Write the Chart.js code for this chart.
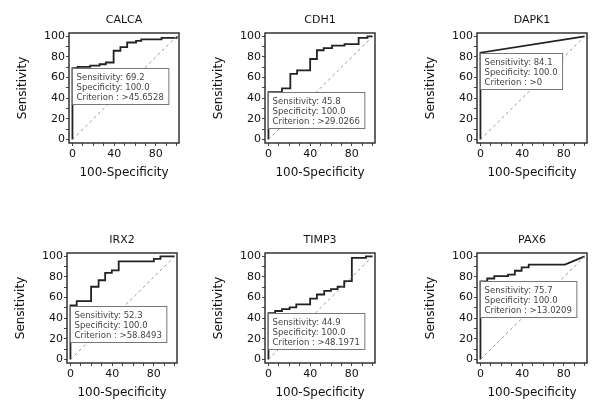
<!DOCTYPE html>
<html lang="en">
<head>
<meta charset="UTF-8">
<title>ROC curves</title>
<script src="https://cdn.jsdelivr.net/npm/chart.js"></script>
<style>
  body { margin: 0; background: #fff; }
  #wrap { position: relative; width: 600px; height: 415px; }
  canvas { position: absolute; }
</style>
</head>
<body>
<div id="wrap"></div>
<script>
const markers = ['CALCA', 'CDH1', 'DAPK1', 'IRX2', 'TIMP3', 'PAX6'];
const sensitivity = ['69.2', '45.8', '84.1', '52.3', '44.9', '75.7'];
const specificity = ['100.0', '100.0', '100.0', '100.0', '100.0', '100.0'];
const criterion = ['>45.6528', '>29.0266', '>0', '>58.8493', '>48.1971', '>13.0209'];

// ROC curve corners: x = 100-specificity, y = sensitivity
const calcaX = [0, 0, 5, 5, 17, 17, 26, 26, 32, 32, 39.5, 39.5, 46, 46, 52.5, 52.5, 61, 61, 66, 66, 85.5, 85.5, 100, 100];
const calcaY = [0, 69.2, 69.2, 70.4, 70.4, 71.6, 71.6, 72.9, 72.9, 74.6, 74.6, 86, 86, 89.5, 89.5, 94, 94, 95.5, 95.5, 97.1, 97.1, 98.5, 98.5, 100];
const cdh1X = [0, 0, 13, 13, 21, 21, 27.5, 27.5, 40, 40, 46.5, 46.5, 53, 53, 61, 61, 73, 73, 86.5, 86.5, 95, 95, 100];
const cdh1Y = [0, 45.8, 45.8, 49.6, 49.6, 63.5, 63.5, 67, 67, 78, 78, 86.5, 86.5, 88.5, 88.5, 91, 91, 92.5, 92.5, 98.5, 98.5, 100, 100];
const dapk1X = [0, 0, 100];
const dapk1Y = [0, 84.1, 100];
const irx2X = [0, 0, 6, 6, 19.8, 19.8, 27, 27, 33.3, 33.3, 39.7, 39.7, 46.3, 46.3, 80, 80, 86.3, 86.3, 100];
const irx2Y = [0, 52.3, 52.3, 56.5, 56.5, 70.5, 70.5, 76.8, 76.8, 84, 84, 86.3, 86.3, 95, 95, 97.5, 97.5, 100, 100];
const timp3X = [0, 0, 6.4, 6.4, 13, 13, 20.3, 20.3, 26.7, 26.7, 40, 40, 46.5, 46.5, 53.5, 53.5, 60, 60, 66.3, 66.3, 72.7, 72.7, 80, 80, 93.5, 93.5, 100];
const timp3Y = [0, 44.9, 44.9, 47, 47, 48.8, 48.8, 50.6, 50.6, 53.5, 53.5, 59, 59, 63, 63, 66.5, 66.5, 68.2, 68.2, 70.5, 70.5, 76, 76, 98.5, 98.5, 100, 100];
const pax6X = [0, 0, 6.5, 6.5, 13.3, 13.3, 26.5, 26.5, 33, 33, 39.5, 39.5, 46.3, 46.3, 81, 100];
const pax6Y = [0, 75.7, 75.7, 78.5, 78.5, 80.7, 80.7, 82.2, 82.2, 86, 86, 89.3, 89.3, 92, 92, 100];

const diagX = [0, 100];
const diagY = [0, 100];
const xLabels = [0, 40, 80];
const yLabels = [0, 20, 40, 60, 80, 100];

const curvesX = [calcaX, cdh1X, dapk1X, irx2X, timp3X, pax6X];
const curvesY = [calcaY, cdh1Y, dapk1Y, irx2Y, timp3Y, pax6Y];

// layout of the six panels
const canvasLeft = [0, 200, 400, 0, 200, 400];
const canvasTop = [0, 0, 0, 220, 220, 220];
const plotLeft = [69, 65, 77, 67, 65, 77];
const plotSize = 110;
const font = 'DejaVu Sans';

const rocBox = {
    id: 'rocBox',
    beforeDatasetsDraw(chart) {
        const {ctx, chartArea: a} = chart;
        ctx.save();
        ctx.strokeStyle = '#333';
        ctx.lineWidth = 1.5;
        ctx.strokeRect(a.left, a.top, a.right - a.left, a.bottom - a.top);
        ctx.restore();
    },
    afterDatasetsDraw(chart, args, opts) {
        const {ctx, scales: {x, y}} = chart;
        ctx.save();
        ctx.font = '8.5px "' + font + '"';
        const w = Math.max(...opts.lines.map(t => ctx.measureText(t).width)) + 9;
        const bx = Math.round(x.getPixelForValue(0)) + 0.5;
        const by = Math.round(y.getPixelForValue(opts.sens)) + 0.5;
        ctx.fillStyle = '#fff';
        ctx.fillRect(bx, by, w, 36);
        ctx.strokeStyle = '#777';
        ctx.lineWidth = 1;
        ctx.strokeRect(bx, by, w, 36);
        ctx.fillStyle = '#444';
        ctx.textBaseline = 'middle';
        opts.lines.forEach((t, i) => ctx.fillText(t, bx + 4, by + 9 + i * 10.2));
        ctx.restore();
    }
};

const wrap = document.getElementById('wrap');
markers.forEach((name, i) => {
    const cv = document.createElement('canvas');
    cv.width = 200;
    cv.height = 190;
    cv.style.left = canvasLeft[i] + 'px';
    cv.style.top = canvasTop[i] + 'px';
    wrap.appendChild(cv);

    const L = plotLeft[i];
    new Chart(cv.getContext('2d'), {
        type: 'scatter',
        data: {
            datasets: [{
                data: diagX.map((v, k) => ({x: v, y: diagY[k]})),
                showLine: true,
                borderColor: '#999',
                borderWidth: 1,
                borderDash: [3, 3],
                pointRadius: 0
            }, {
                data: curvesX[i].map((v, k) => ({x: v, y: curvesY[i][k]})),
                showLine: true,
                borderColor: '#222',
                borderWidth: 1.8,
                pointRadius: 0
            }]
        },
        options: {
            responsive: false,
            animation: false,
            devicePixelRatio: 1,
            layout: { padding: { left: 0, right: 200 - L - plotSize, top: 0, bottom: 7 } },
            plugins: {
                legend: { display: false },
                tooltip: { enabled: false },
                title: {
                    display: true,
                    text: name,
                    fullSize: false,
                    color: '#111',
                    font: { family: font, size: 11, weight: 'normal' },
                    padding: { top: 13.7, bottom: 6.1 }
                },
                rocBox: {
                    sens: parseFloat(sensitivity[i]),
                    lines: ['Sensitivity: ' + sensitivity[i], 'Specificity: ' + specificity[i], 'Criterion : ' + criterion[i]]
                }
            },
            scales: {
                x: {
                    type: 'linear',
                    min: -3.3,
                    max: 102.2,
                    afterFit: s => { s.height = 40; },
                    ticks: {
                        stepSize: 10, includeBounds: false, autoSkip: false, maxRotation: 0, padding: 2,
                        color: '#111', font: { family: font, size: 11 },
                        callback: v => xLabels.includes(v) ? String(v) : ''
                    },
                    grid: { drawOnChartArea: false, tickLength: 3, color: '#444' },
                    border: { display: false },
                    title: {
                        display: true, text: '100-Specificity', color: '#111',
                        font: { family: font, size: 12 }, padding: { top: 0, bottom: 3.3 }
                    }
                },
                y: {
                    min: -3.4,
                    max: 103.2,
                    afterFit: s => { s.width = L; },
                    ticks: {
                        stepSize: 10, includeBounds: false, autoSkip: false, padding: 1,
                        color: '#111', font: { family: font, size: 11 },
                        callback: v => yLabels.includes(v) ? String(v) : ''
                    },
                    grid: { drawOnChartArea: false, tickLength: 3, color: '#444' },
                    border: { display: false },
                    title: {
                        display: true, text: 'Sensitivity', color: '#111',
                        font: { family: font, size: 12 }, padding: { top: L - 46 - 7.2, bottom: 0 }
                    }
                }
            }
        },
        plugins: [rocBox]
    });
});
</script>
</body>
</html>
